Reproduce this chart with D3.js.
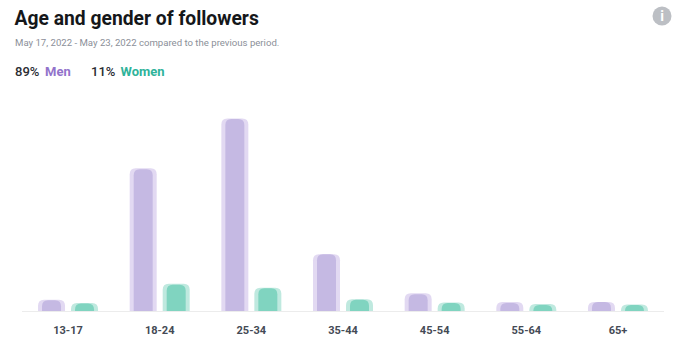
<!DOCTYPE html>
<html lang="en">
<head>
  <meta charset="UTF-8">
  <title>Age and gender of followers</title>
  <script src="https://d3js.org/d3.v7.min.js"></script>
  <style>
    html, body { margin: 0; padding: 0; background: #fff; }
    svg { display: block; font-family: Roboto, sans-serif; }
    .tick line, .domain { display: none; }
  </style>
</head>
<body>
  <svg id="chart" width="690" height="356"></svg>
  <script>
    // values, share of followers in percent
    const ages = ["13-17", "18-24", "25-34", "35-44", "45-54", "55-64", "65+"];
    const menNow = [2.3, 28.8, 39, 11.6, 3.5, 1.7, 1.9];
    const menPrev = [2.4, 29, 39.1, 11.6, 3.7, 1.9, 1.9];
    const womenNow = [1.6, 5.4, 4.7, 2.4, 1.7, 1.3, 1.3];
    const womenPrev = [1.7, 5.6, 4.8, 2.5, 1.8, 1.5, 1.4];

    const svg = d3.select("#chart");

    const x = d3.scaleBand().domain(ages).range([22.2, 663.8]);
    const y = d3.scaleLinear().domain([0, 40]).range([311.5, 114]);

    const outerW = 27, innerW = 19, gap = 6;

    // bar with rounded top corners, flat on the baseline
    function barPath(cx, w, v) {
      const top = y(v), base = y(0), r = Math.min(6, (base - top));
      const left = cx - w / 2, right = cx + w / 2;
      return `M${left},${base}V${top + r}Q${left},${top} ${left + r},${top}` +
             `H${right - r}Q${right},${top} ${right},${top + r}V${base}Z`;
    }

    function bars(values, offset, w, color) {
      svg.append("g").selectAll("path")
         .data(values)
         .enter().append("path")
         .attr("d", (d, i) => barPath(x(ages[i]) + x.bandwidth() / 2 + offset, w, d))
         .attr("fill", color);
    }

    const menOff = -(outerW + gap) / 2, womenOff = (outerW + gap) / 2;
    bars(menPrev, menOff, outerW, "#e2d9f2");
    bars(menNow, menOff, innerW, "#c5b9e3");
    bars(womenPrev, womenOff, outerW, "#bfe9df");
    bars(womenNow, womenOff, innerW, "#80d4c0");

    // baseline
    svg.append("line")
       .attr("x1", 22).attr("x2", 664)
       .attr("y1", 311.5).attr("y2", 311.5)
       .attr("stroke", "#ececec");

    // x axis
    const axis = svg.append("g")
       .attr("transform", "translate(0,311)")
       .call(d3.axisBottom(x).tickSize(0).tickPadding(15));
    axis.selectAll("text")
       .attr("fill", "#444a55")
       .style("font-family", "Roboto, sans-serif")
       .style("font-size", "11px")
       .style("font-weight", 700);

    // title block
    svg.append("text").attr("x", 14.5).attr("y", 25)
       .attr("fill", "#15171a")
       .style("font-size", "19.3px").style("font-weight", 700)
       .text("Age and gender of followers");
    svg.append("text").attr("x", 15).attr("y", 46)
       .attr("fill", "#8b8f99")
       .style("font-size", "9.6px")
       .text("May 17, 2022 - May 23, 2022 compared to the previous period.");

    // legend
    const legend = [["89%", 15, "#2b2d33", 500], ["Men", 45, "#9273cb", 700],
                    ["11%", 91, "#2b2d33", 500], ["Women", 120.5, "#2fb39a", 700]];
    svg.selectAll(".legend")
       .data(legend)
       .enter().append("text")
       .attr("class", "legend")
       .attr("x", d => d[1]).attr("y", 76)
       .attr("fill", d => d[2])
       .style("font-size", "13px").style("font-weight", d => d[3])
       .text(d => d[0]);

    // info icon
    svg.append("circle").attr("cx", 662).attr("cy", 16).attr("r", 9.5).attr("fill", "#bcbfc4");
    svg.append("text").attr("x", 662).attr("y", 21).attr("text-anchor", "middle")
       .attr("fill", "#fff")
       .style("font-size", "14px").style("font-weight", 700)
       .text("i");
  </script>
</body>
</html>
